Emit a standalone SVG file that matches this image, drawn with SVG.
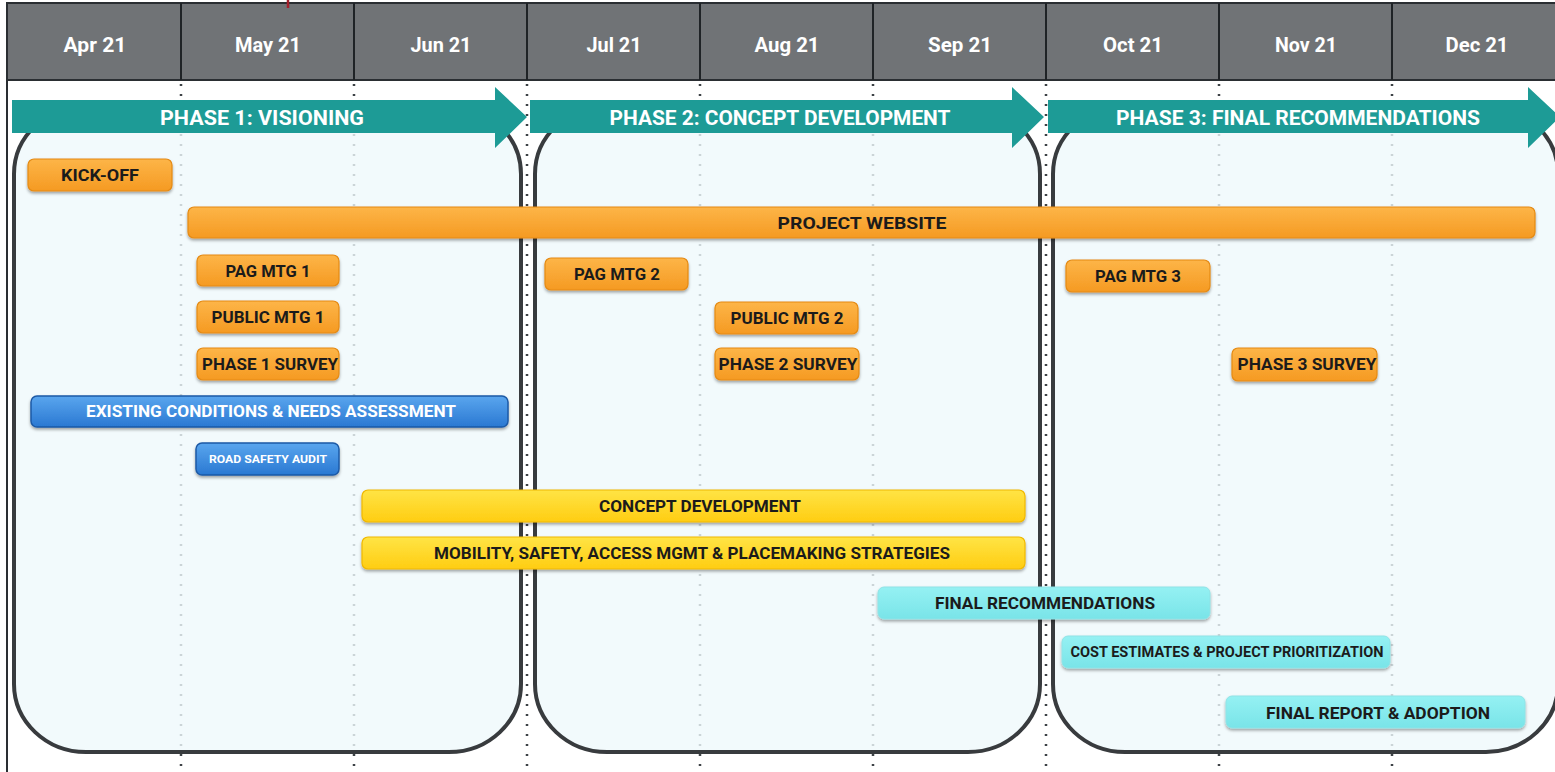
<svg xmlns="http://www.w3.org/2000/svg" width="1555" height="772" viewBox="0 0 1555 772">
<defs>
<style>
.hdr{font-family:"Liberation Sans Narrow","Roboto","Liberation Sans",sans-serif;font-weight:bold;font-size:21px;fill:#ffffff;text-anchor:middle}
.ph{font-family:"Liberation Sans Narrow","Roboto","Liberation Sans",sans-serif;font-weight:bold;font-size:20px;fill:#ffffff;text-anchor:middle}
.bt{font-family:"Liberation Sans Narrow","Roboto","Liberation Sans",sans-serif;font-weight:bold;font-size:16.5px;fill:#1b1b1b;text-anchor:middle}
.wt{fill:#ffffff}
.dot{stroke:#3d4246;stroke-width:2.5;stroke-dasharray:2 8;fill:none}
.box{fill:#eff9fb;fill-opacity:0.8;stroke:#383b3e;stroke-width:4}
.arr{fill:#1d9b96}
.or{fill:url(#gOr);stroke:#e58a12;stroke-width:1.2;filter:url(#sh)}
.bl{fill:url(#gBl);stroke:#1d5aa6;stroke-width:1.5;filter:url(#sh)}
.ye{fill:url(#gYe);stroke:#f0b800;stroke-width:1.2;filter:url(#sh)}
.cy{fill:url(#gCy);stroke:#8fe3e6;stroke-width:1;filter:url(#sh)}
</style>
<linearGradient id="gOr" x1="0" y1="0" x2="0" y2="1"><stop offset="0" stop-color="#fdb548"/><stop offset="1" stop-color="#f59a22"/></linearGradient>
<linearGradient id="gBl" x1="0" y1="0" x2="0" y2="1"><stop offset="0" stop-color="#5aa6ee"/><stop offset="1" stop-color="#2a78d2"/></linearGradient>
<linearGradient id="gYe" x1="0" y1="0" x2="0" y2="1"><stop offset="0" stop-color="#ffe445"/><stop offset="1" stop-color="#ffcd12"/></linearGradient>
<linearGradient id="gCy" x1="0" y1="0" x2="0" y2="1"><stop offset="0" stop-color="#95f1f3"/><stop offset="1" stop-color="#79e4e8"/></linearGradient>
<filter id="sh" x="-5%" y="-30%" width="110%" height="170%"><feDropShadow dx="0" dy="2" stdDeviation="1.5" flood-color="#000" flood-opacity="0.35"/></filter>
</defs>
<rect x="0" y="0" width="1555" height="772" fill="#ffffff"/>
<g id="grid">
<line class="dot" x1="181" y1="84" x2="181" y2="772"/>
<line class="dot" x1="354" y1="84" x2="354" y2="772"/>
<line class="dot" x1="527" y1="84" x2="527" y2="772"/>
<line class="dot" x1="700" y1="84" x2="700" y2="772"/>
<line class="dot" x1="873" y1="84" x2="873" y2="772"/>
<line class="dot" x1="1046" y1="84" x2="1046" y2="772"/>
<line class="dot" x1="1219" y1="84" x2="1219" y2="772"/>
<line class="dot" x1="1392" y1="84" x2="1392" y2="772"/>
</g>
<g id="phase-boxes">
<rect id="box1" class="box" x="14" y="106" width="507" height="646" rx="72" ry="68"/>
<rect id="box2" class="box" x="535" y="106" width="505" height="646" rx="72" ry="68"/>
<rect id="box3" class="box" x="1053" y="106" width="505" height="646" rx="72" ry="68"/>
</g>
<g id="header">
<rect x="7" y="3" width="1552" height="77" fill="#707376" stroke="#2a2e32" stroke-width="2"/>
<g stroke="#1f2326" stroke-width="2">
<line x1="181" y1="3" x2="181" y2="80"/><line x1="354" y1="3" x2="354" y2="80"/><line x1="527" y1="3" x2="527" y2="80"/><line x1="700" y1="3" x2="700" y2="80"/><line x1="873" y1="3" x2="873" y2="80"/><line x1="1046" y1="3" x2="1046" y2="80"/><line x1="1219" y1="3" x2="1219" y2="80"/><line x1="1392" y1="3" x2="1392" y2="80"/>
</g>
<text class="hdr" x="95" y="52" textLength="63" lengthAdjust="spacingAndGlyphs">Apr 21</text>
<text class="hdr" x="268" y="52" textLength="66" lengthAdjust="spacingAndGlyphs">May 21</text>
<text class="hdr" x="441" y="52" textLength="61" lengthAdjust="spacingAndGlyphs">Jun 21</text>
<text class="hdr" x="614" y="52" textLength="55" lengthAdjust="spacingAndGlyphs">Jul 21</text>
<text class="hdr" x="787" y="52" textLength="65" lengthAdjust="spacingAndGlyphs">Aug 21</text>
<text class="hdr" x="960" y="52" textLength="64" lengthAdjust="spacingAndGlyphs">Sep 21</text>
<text class="hdr" x="1133" y="52" textLength="60" lengthAdjust="spacingAndGlyphs">Oct 21</text>
<text class="hdr" x="1306" y="52" textLength="62" lengthAdjust="spacingAndGlyphs">Nov 21</text>
<text class="hdr" x="1477" y="52" textLength="63" lengthAdjust="spacingAndGlyphs">Dec 21</text>
</g>
<line x1="7" y1="3" x2="7" y2="772" stroke="#2a2e32" stroke-width="2"/>
<line x1="288" y1="0" x2="288" y2="8" stroke="#a3202c" stroke-width="2.5"/>
<g id="phase1">
<polygon class="arr" points="12,100 495,100 495,87 527,117 495,148 495,133 12,133"/>
<text class="ph" x="262" y="125" textLength="204" lengthAdjust="spacingAndGlyphs">PHASE 1: VISIONING</text>
</g>
<g id="phase2">
<polygon class="arr" points="530,100 1012,100 1012,87 1044,117 1012,148 1012,133 530,133"/>
<text class="ph" x="780" y="125" textLength="341" lengthAdjust="spacingAndGlyphs">PHASE 2: CONCEPT DEVELOPMENT</text>
</g>
<g id="phase3">
<polygon class="arr" points="1048,100 1528,100 1528,87 1560,117 1528,148 1528,133 1048,133"/>
<text class="ph" x="1298" y="125" textLength="364" lengthAdjust="spacingAndGlyphs">PHASE 3: FINAL RECOMMENDATIONS</text>
</g>
<g id="connectors"></g>
<g id="kickoff"><rect class="or" x="28" y="159" width="144" height="32" rx="6"/><text class="bt" x="100" y="181" textLength="78" lengthAdjust="spacingAndGlyphs">KICK-OFF</text></g>
<g id="website"><rect class="or" x="188" y="207" width="1347" height="31" rx="6"/><text class="bt" x="862" y="229" textLength="169" lengthAdjust="spacingAndGlyphs">PROJECT WEBSITE</text></g>
<g id="pag1"><rect class="or" x="197" y="255" width="142" height="31" rx="6"/><text class="bt" x="268" y="277" textLength="85" lengthAdjust="spacingAndGlyphs">PAG MTG 1</text></g>
<g id="pag2"><rect class="or" x="545" y="258" width="143" height="32" rx="6"/><text class="bt" x="617" y="280" textLength="86" lengthAdjust="spacingAndGlyphs">PAG MTG 2</text></g>
<g id="pag3"><rect class="or" x="1066" y="260" width="144" height="32" rx="6"/><text class="bt" x="1138" y="282" textLength="86" lengthAdjust="spacingAndGlyphs">PAG MTG 3</text></g>
<g id="public1"><rect class="or" x="197" y="301" width="142" height="32" rx="6"/><text class="bt" x="268" y="323" textLength="113" lengthAdjust="spacingAndGlyphs">PUBLIC MTG 1</text></g>
<g id="public2"><rect class="or" x="715" y="302" width="143" height="32" rx="6"/><text class="bt" x="787" y="324" textLength="113" lengthAdjust="spacingAndGlyphs">PUBLIC MTG 2</text></g>
<g id="survey1"><rect class="or" x="197" y="348" width="142" height="32" rx="6"/><text class="bt" x="270" y="370" textLength="136" lengthAdjust="spacingAndGlyphs">PHASE 1 SURVEY</text></g>
<g id="survey2"><rect class="or" x="715" y="348" width="144" height="32" rx="6"/><text class="bt" x="788" y="370" textLength="139" lengthAdjust="spacingAndGlyphs">PHASE 2 SURVEY</text></g>
<g id="survey3"><rect class="or" x="1232" y="348" width="145" height="33" rx="6"/><text class="bt" x="1307" y="370" textLength="139" lengthAdjust="spacingAndGlyphs">PHASE 3 SURVEY</text></g>
<g id="existing"><rect class="bl" x="31" y="396" width="477" height="31" rx="6"/><text class="bt wt" x="271" y="417" textLength="370" lengthAdjust="spacingAndGlyphs">EXISTING CONDITIONS &amp; NEEDS ASSESSMENT</text></g>
<g id="rsa"><rect class="bl" x="196" y="443" width="143" height="32" rx="6"/><text class="bt wt" x="268" y="463" style="font-size:11px" textLength="118" lengthAdjust="spacingAndGlyphs">ROAD SAFETY AUDIT</text></g>
<g id="concept"><rect class="ye" x="362" y="490" width="663" height="32" rx="6"/><text class="bt" x="700" y="512" textLength="202" lengthAdjust="spacingAndGlyphs">CONCEPT DEVELOPMENT</text></g>
<g id="mobility"><rect class="ye" x="362" y="537" width="663" height="32" rx="6"/><text class="bt" x="692" y="559" textLength="516" lengthAdjust="spacingAndGlyphs">MOBILITY, SAFETY, ACCESS MGMT &amp; PLACEMAKING STRATEGIES</text></g>
<g id="finalrec"><rect class="cy" x="878" y="587" width="332" height="32" rx="6"/><text class="bt" x="1045" y="609" textLength="220" lengthAdjust="spacingAndGlyphs">FINAL RECOMMENDATIONS</text></g>
<g id="cost"><rect class="cy" x="1062" y="636" width="328" height="32" rx="6"/><text class="bt" x="1227" y="657" style="font-size:14px" textLength="313" lengthAdjust="spacingAndGlyphs">COST ESTIMATES &amp; PROJECT PRIORITIZATION</text></g>
<g id="finalreport"><rect class="cy" x="1226" y="696" width="299" height="32" rx="6"/><text class="bt" x="1378" y="719" textLength="224" lengthAdjust="spacingAndGlyphs">FINAL REPORT &amp; ADOPTION</text></g>
</svg>
